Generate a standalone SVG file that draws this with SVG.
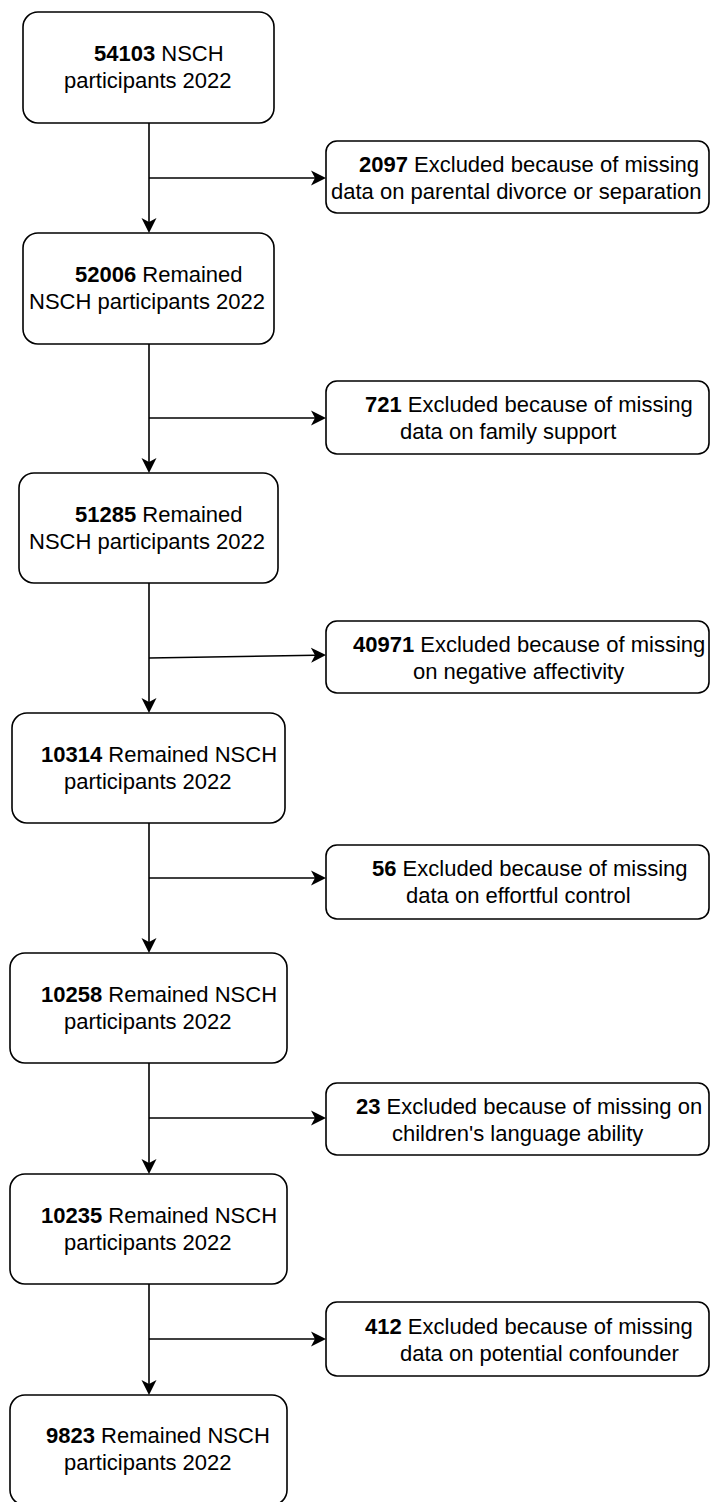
<svg xmlns="http://www.w3.org/2000/svg" width="710" height="1502" viewBox="0 0 710 1502">
<style>
.box{fill:#fff;stroke:#000;stroke-width:1.6}
.t{font-family:"Liberation Sans",Arial,sans-serif;font-size:22px;fill:#000}
.s{font-family:"Liberation Sans",Arial,sans-serif;font-size:22px;fill:#000}
.b{font-weight:bold}
.c{fill:none;stroke:#000;stroke-width:1.6}
</style>
<defs>
<marker id="arr" markerUnits="userSpaceOnUse" markerWidth="16" markerHeight="16" viewBox="0 0 16 16" refX="4" refY="8" orient="auto">
<path d="M15,8 L0,0.5 L4,8 L0,15.5 Z" fill="#000"/>
</marker>
</defs>
<rect width="710" height="1502" fill="#fff"/>
<g id="connectors">
<line class="c" x1="149" y1="123" x2="149" y2="222" marker-end="url(#arr)"/>
<line class="c" x1="149" y1="344" x2="149" y2="462" marker-end="url(#arr)"/>
<line class="c" x1="149" y1="583" x2="149" y2="702" marker-end="url(#arr)"/>
<line class="c" x1="149" y1="823" x2="149" y2="942" marker-end="url(#arr)"/>
<line class="c" x1="149" y1="1063" x2="149" y2="1163" marker-end="url(#arr)"/>
<line class="c" x1="149" y1="1284" x2="149" y2="1384" marker-end="url(#arr)"/>
<line class="c" x1="149" y1="178" x2="315" y2="178" marker-end="url(#arr)"/>
<line class="c" x1="149" y1="418" x2="315" y2="418" marker-end="url(#arr)"/>
<line class="c" x1="149" y1="658" x2="315" y2="655.2" marker-end="url(#arr)"/>
<line class="c" x1="149" y1="878" x2="315" y2="878" marker-end="url(#arr)"/>
<line class="c" x1="149" y1="1118" x2="315" y2="1118" marker-end="url(#arr)"/>
<line class="c" x1="149" y1="1339" x2="315" y2="1339" marker-end="url(#arr)"/>
</g>
<g id="n1">
<rect class="box" x="23" y="12" width="251" height="111" rx="15"/>
<text class="t" x="94" y="61"><tspan class="b">54103</tspan> NSCH</text>
<text class="t" x="64" y="88">participants 2022</text>
</g>
<g id="n2">
<rect class="box" x="23" y="233" width="251" height="111" rx="15"/>
<text class="t" x="75" y="282"><tspan class="b">52006</tspan> Remained</text>
<text class="t" x="29" y="309">NSCH participants 2022</text>
</g>
<g id="n3">
<rect class="box" x="19" y="473" width="259" height="110" rx="15"/>
<text class="t" x="75" y="522"><tspan class="b">51285</tspan> Remained</text>
<text class="t" x="29" y="549">NSCH participants 2022</text>
</g>
<g id="n4">
<rect class="box" x="12" y="713" width="273" height="110" rx="15"/>
<text class="t" x="41" y="762"><tspan class="b">10314</tspan> Remained NSCH</text>
<text class="t" x="64" y="789">participants 2022</text>
</g>
<g id="n5">
<rect class="box" x="10" y="953" width="277" height="110" rx="15"/>
<text class="t" x="41" y="1002"><tspan class="b">10258</tspan> Remained NSCH</text>
<text class="t" x="64" y="1029">participants 2022</text>
</g>
<g id="n6">
<rect class="box" x="10" y="1174" width="277" height="110" rx="15"/>
<text class="t" x="41" y="1223"><tspan class="b">10235</tspan> Remained NSCH</text>
<text class="t" x="64" y="1250">participants 2022</text>
</g>
<g id="n7">
<rect class="box" x="10" y="1395" width="277" height="110" rx="15"/>
<text class="t" x="46" y="1443"><tspan class="b">9823</tspan> Remained NSCH</text>
<text class="t" x="64" y="1470">participants 2022</text>
</g>
<g id="s1">
<rect class="box" x="326" y="141" width="383" height="72" rx="11"/>
<text class="s" x="359" y="172"><tspan class="b">2097</tspan> Excluded because of missing</text>
<text class="s" x="331" y="199">data on parental divorce or separation</text>
</g>
<g id="s2">
<rect class="box" x="326" y="381" width="383" height="73" rx="11"/>
<text class="s" x="365" y="412"><tspan class="b">721</tspan> Excluded because of missing</text>
<text class="s" x="400" y="439">data on family support</text>
</g>
<g id="s3">
<rect class="box" x="326" y="621" width="383" height="72" rx="11"/>
<text class="s" x="353" y="652"><tspan class="b">40971</tspan> Excluded because of missing</text>
<text class="s" x="413" y="679">on negative affectivity</text>
</g>
<g id="s4">
<rect class="box" x="326" y="845" width="383" height="74" rx="11"/>
<text class="s" x="372" y="876"><tspan class="b">56</tspan> Excluded because of missing</text>
<text class="s" x="406" y="903">data on effortful control</text>
</g>
<g id="s5">
<rect class="box" x="326" y="1083" width="383" height="72" rx="11"/>
<text class="s" x="356" y="1114"><tspan class="b">23</tspan> Excluded because of missing on</text>
<text class="s" x="392" y="1141">children's language ability</text>
</g>
<g id="s6">
<rect class="box" x="326" y="1302" width="383" height="74" rx="11"/>
<text class="s" x="365" y="1334"><tspan class="b">412</tspan> Excluded because of missing</text>
<text class="s" x="400" y="1361">data on potential confounder</text>
</g>
</svg>
